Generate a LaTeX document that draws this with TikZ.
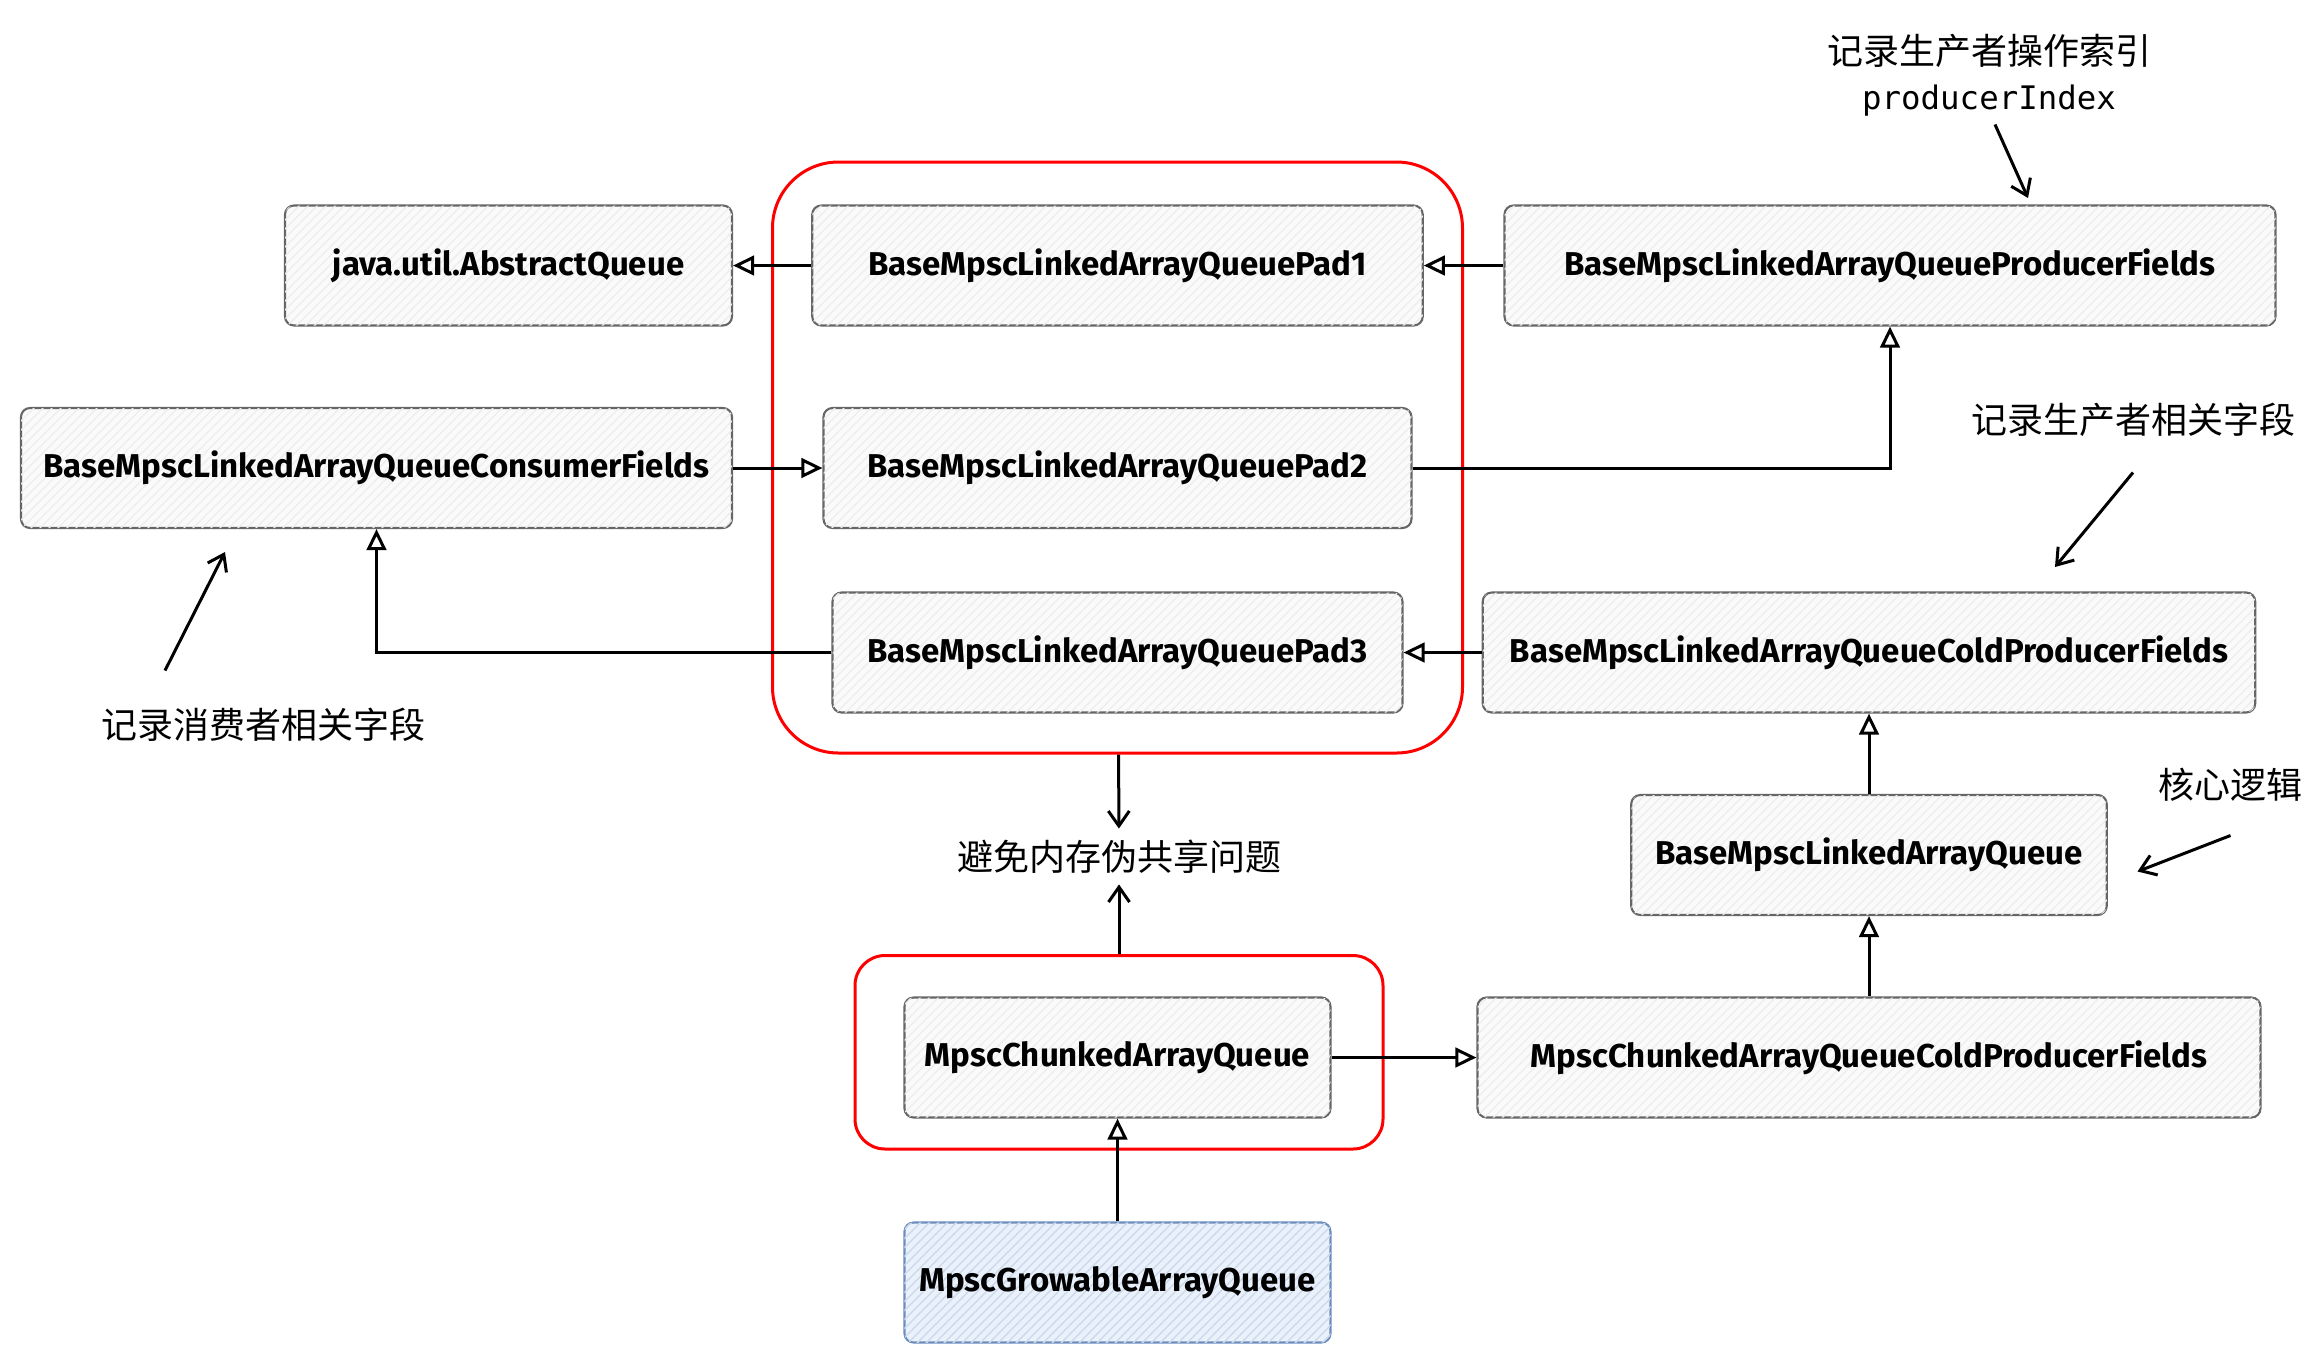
\documentclass[tikz,border=0pt]{standalone}
\usepackage{fontspec}
\setmainfont{Fira Sans}
\newfontfamily\cjk{Noto Sans CJK SC}
\newfontfamily\codefont{DejaVu Sans Mono}
\usetikzlibrary{arrows.meta,patterns}
\definecolor{growfill}{HTML}{DAE8FC}
\definecolor{growline}{HTML}{6C8EBF}

\begin{document}
\begin{tikzpicture}[x=0.5pt,y=-0.5pt,thick,
    class node/.style={draw=black!60,line width=0.7pt,rounded corners=3pt,fill=black!2,
        postaction={pattern=north east lines,pattern color=black!7},
        minimum height=40pt,inner sep=0pt,font=\bfseries\fontsize{11}{13}\selectfont},
    growable node/.style={class node,draw=growline,fill=growfill!60,
        postaction={pattern=north east lines,pattern color=growline!35}},
    red box/.style={draw=red,line width=1pt,inner sep=0pt},
    note/.style={font=\cjk\fontsize{12}{15}\selectfont,align=center},
    inherit/.style={-{Triangle[open,length=7pt,width=6.5pt]},line width=1pt},
    point/.style={-{Straight Barb[length=5pt,width=7pt]},line width=1pt}]
    \useasboundingbox (0,0) rectangle (1544,906.7);

    % red frames
    \node[red box,rounded corners=22pt,minimum width=230pt,minimum height=197pt] (r1) at (745,305) {};
    \node[red box,rounded corners=10pt,minimum width=176pt,minimum height=64.5pt] (r2) at (746,701.5) {};

    % classes
    \node[class node,minimum width=149pt] (1) at (339,177) {java.util.AbstractQueue};
    \node[class node,minimum width=203.5pt] (2) at (745,177) {BaseMpscLinkedArrayQueuePad1};
    \node[class node,minimum width=257pt] (3) at (1260,177) {BaseMpscLinkedArrayQueueProducerFields};
    \node[class node,minimum width=237pt] (4) at (251,312) {BaseMpscLinkedArrayQueueConsumerFields};
    \node[class node,minimum width=196pt] (5) at (745,312) {BaseMpscLinkedArrayQueuePad2};
    \node[class node,minimum width=190pt] (6) at (745,435) {BaseMpscLinkedArrayQueuePad3};
    \node[class node,minimum width=257.5pt] (7) at (1246,435) {BaseMpscLinkedArrayQueueColdProducerFields};
    \node[class node,minimum width=158.5pt] (8) at (1246,570) {BaseMpscLinkedArrayQueue};
    \node[class node,minimum width=142pt] (9) at (745,705) {MpscChunkedArrayQueue};
    \node[class node,minimum width=261pt] (10) at (1246,705) {MpscChunkedArrayQueueColdProducerFields};
    \node[growable node,minimum width=142pt] (11) at (745,855) {MpscGrowableArrayQueue};

    % notes
    \node[note] (t1) at (746,571) {避免内存伪共享问题};
    \node[note] (t2) at (1326,50) {记录生产者操作索引\\{\codefont\fontsize{10.8}{15}\selectfont producerIndex}};
    \node[note] (t3) at (1422,280) {记录生产者相关字段};
    \node[note] (t4) at (176,483) {记录消费者相关字段};
    \node[note] (t5) at (1487,523) {核心逻辑};

    \coordinate (a1) at (1330,83);  \coordinate (b1) at (1352,132);
    \coordinate (a2) at (1422,315); \coordinate (b2) at (1370,378);
    \coordinate (a3) at (110,447);  \coordinate (b3) at (150,368);
    \coordinate (a4) at (1487,557); \coordinate (b4) at (1425,581);

    \path[inherit]
        (2) edge (1)
        (3) edge (2)
        (4) edge (5)
        (7) edge (6)
        (8) edge (7)
        (10) edge (8)
        (9) edge (10)
        (11) edge (9)
        ;
    \draw[inherit] (5) -| (3);
    \draw[inherit] (6) -| (4);

    \path[point]
        (r1) edge (t1)
        (r2) edge (t1)
        (a1) edge (b1)
        (a2) edge (b2)
        (a3) edge (b3)
        (a4) edge (b4)
        ;
\end{tikzpicture}
\end{document}
